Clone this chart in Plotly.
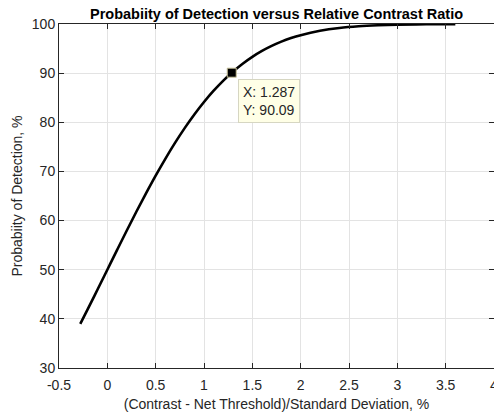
import plotly.graph_objects as go

# Values
x_vals = [-0.28, -0.2, -0.1, 0.0, 0.1, 0.2, 0.3, 0.4, 0.5, 0.6, 0.7, 0.8, 0.9,
          1.0, 1.1, 1.2, 1.287, 1.4, 1.5, 1.6, 1.7, 1.8, 1.9, 2.0, 2.2, 2.4,
          2.6, 2.8, 3.0, 3.3, 3.6]
pd_vals = [38.97, 42.07, 46.02, 50.0, 53.98, 57.93, 61.79, 65.54, 69.15, 72.57,
           75.80, 78.81, 81.59, 84.13, 86.43, 88.49, 90.09, 91.92, 93.32, 94.52,
           95.54, 96.41, 97.13, 97.72, 98.61, 99.18, 99.53, 99.74, 99.87, 99.95,
           99.98]
tip_x = [1.287]
tip_y = [90.09]
x_ticks = [-0.5, 0, 0.5, 1, 1.5, 2, 2.5, 3, 3.5, 4]
x_tick_text = ["-0.5", "0", "0.5", "1", "1.5", "2", "2.5", "3", "3.5", "4"]
y_ticks = [30, 40, 50, 60, 70, 80, 90, 100]

FONT = "Liberation Sans, Arial, sans-serif"
AX = "#262626"

fig = go.Figure()
fig.add_trace(go.Scatter(x=x_vals, y=pd_vals, mode="lines",
                         line=dict(color="black", width=2.6, shape="spline"),
                         showlegend=False, hoverinfo="skip"))
fig.add_trace(go.Scatter(x=tip_x, y=tip_y, mode="markers",
                         marker=dict(symbol="square", size=9, color="black",
                                     line=dict(color="#c9c39a", width=1)),
                         showlegend=False, hoverinfo="skip"))

fig.add_annotation(x=tip_x[0], y=tip_y[0], xref="x", yref="y",
                   text="X: %.3f<br>Y: %.2f" % (tip_x[0], tip_y[0]),
                   showarrow=False, xanchor="left", yanchor="top",
                   xshift=6, yshift=-6, align="left",
                   font=dict(family=FONT, size=14, color="#262626"),
                   bgcolor="#ffffe6", bordercolor="#d6d6c2", borderwidth=1,
                   borderpad=4)

# last x tick label sits on the clipped right edge; draw it as an annotation
fig.add_annotation(x=x_ticks[-1], y=0, xref="x", yref="paper",
                   text=x_tick_text[-1], showarrow=False,
                   xanchor="center", yanchor="top", yshift=-7,
                   font=dict(family=FONT, size=14, color=AX))

axis_common = dict(showline=True, linecolor=AX, linewidth=1, mirror="ticks",
                   ticks="inside", ticklen=5, tickcolor=AX,
                   showgrid=True, gridcolor="#e3e3e3", gridwidth=1,
                   zeroline=False,
                   tickfont=dict(family=FONT, size=14, color=AX))

fig.update_xaxes(range=[-0.5, 4], tickvals=x_ticks,
                 ticktext=x_tick_text[:-1] + [""],
                 ticklabelstandoff=4,
                 title=dict(text="(Contrast - Net Threshold)/Standard Deviation, %",
                            font=dict(family=FONT, size=14, color=AX), standoff=7),
                 **axis_common)
fig.update_yaxes(range=[30, 100], tickvals=y_ticks,
                 title=dict(text="Probabiity of Detection, %",
                            font=dict(family=FONT, size=14, color=AX), standoff=5),
                 **axis_common)

fig.update_layout(
    width=494, height=412,
    margin=dict(l=59, r=0, t=24, b=44),
    paper_bgcolor="white", plot_bgcolor="white",
    title=dict(text="<b>Probabiity of Detection versus Relative Contrast Ratio</b>",
               x=(59 + 494) / 2 / 494, xanchor="center", y=1 - 14 / 412, yanchor="middle",
               font=dict(family=FONT, size=14.5, color="black")),
)

fig.write_html("out.html")
